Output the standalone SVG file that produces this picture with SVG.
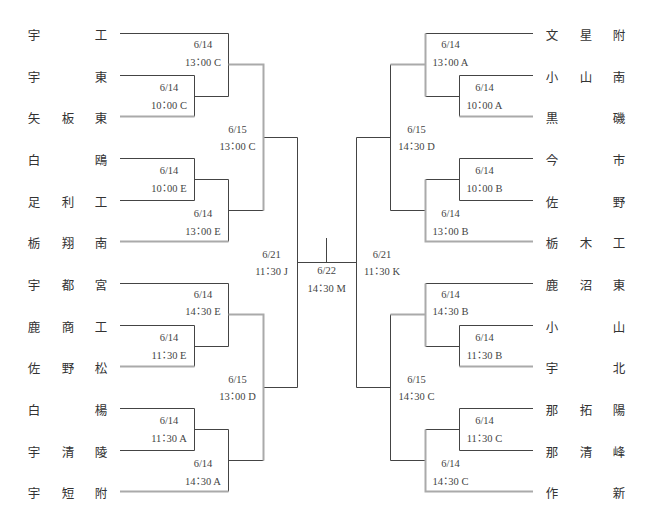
<svg xmlns="http://www.w3.org/2000/svg" width="654" height="526" viewBox="0 0 654 526">
<style>
.bg{fill:#ffffff}
.ln{fill:none;stroke:#444;stroke-width:1}
.gl{fill:none;stroke:#aaa;stroke-width:2}
.tm{font-family:"Noto Sans CJK JP","Noto Sans CJK SC",sans-serif;font-size:12.5px;fill:#333;text-anchor:middle}
.lb{font-family:"Liberation Serif","Noto Sans CJK JP",serif;font-size:10.5px;fill:#444;text-anchor:middle;font-feature-settings:"palt"}
</style>
<rect class="bg" x="0" y="0" width="654" height="526"/>
<g id="connectors">
<path class="ln" d="M120 33.5H228.5V96.5H194.5M120 75.5H194.5V116.5M120 158.5H194.5V200.5H120M194.5 179.5H228.5V241.5M228.5 210.5H263.5M263.5 137.5H297.5"/>
<path class="gl" d="M120 116.5H194.5M120 241.5H228.5M228.5 64.5H263.5V210.5"/>
<path class="ln" d="M120 283.5H228.5V346.5H194.5M120 325.5H194.5V366.5M120 408.5H194.5V450.5H120M194.5 429.5H228.5V491.5M228.5 460.5H263.5M263.5 387.5H297.5"/>
<path class="gl" d="M120 366.5H194.5M120 491.5H228.5M228.5 314.5H263.5V460.5"/>
<path class="ln" d="M297.5 137.5V387.5M297.5 262.5H356.5M326.5 238V262.5M356.5 137.5V387.5"/>
<path class="ln" d="M533 33.5H425.5M533 75.5H459.5V116.5M459.5 96.5H425.5M533 158.5H459.5V200.5H533M459.5 179.5H425.5M425.5 210.5H390.5V64.5M390.5 137.5H356.5"/>
<path class="gl" d="M533 116.5H459.5M533 241.5H425.5V179.5M425.5 96.5V33.5M425.5 64.5H390.5"/>
<path class="ln" d="M533 283.5H425.5M533 325.5H459.5V366.5M459.5 346.5H425.5M533 408.5H459.5V450.5H533M459.5 429.5H425.5M425.5 460.5H390.5V314.5M390.5 387.5H356.5"/>
<path class="gl" d="M533 366.5H459.5M533 491.5H425.5V429.5M425.5 346.5V283.5M425.5 314.5H390.5"/>
</g>
<g id="team-l1"><text class="tm" x="34 101" y="40">宇工</text></g>
<g id="team-l2"><text class="tm" x="34 101" y="82">宇東</text></g>
<g id="team-l3"><text class="tm" x="34 68 101" y="123">矢板東</text></g>
<g id="team-l4"><text class="tm" x="34 101" y="165">白鴎</text></g>
<g id="team-l5"><text class="tm" x="34 68 101" y="207">足利工</text></g>
<g id="team-l6"><text class="tm" x="34 68 101" y="248">栃翔南</text></g>
<g id="team-l7"><text class="tm" x="34 68 101" y="290">宇都宮</text></g>
<g id="team-l8"><text class="tm" x="34 68 101" y="332">鹿商工</text></g>
<g id="team-l9"><text class="tm" x="34 68 101" y="373">佐野松</text></g>
<g id="team-l10"><text class="tm" x="34 101" y="415">白楊</text></g>
<g id="team-l11"><text class="tm" x="34 68 101" y="457">宇清陵</text></g>
<g id="team-l12"><text class="tm" x="34 68 101" y="498">宇短附</text></g>
<g id="team-r1"><text class="tm" x="552 586 619" y="40">文星附</text></g>
<g id="team-r2"><text class="tm" x="552 586 619" y="82">小山南</text></g>
<g id="team-r3"><text class="tm" x="552 619" y="123">黒磯</text></g>
<g id="team-r4"><text class="tm" x="552 619" y="165">今市</text></g>
<g id="team-r5"><text class="tm" x="552 619" y="207">佐野</text></g>
<g id="team-r6"><text class="tm" x="552 586 619" y="248">栃木工</text></g>
<g id="team-r7"><text class="tm" x="552 586 619" y="290">鹿沼東</text></g>
<g id="team-r8"><text class="tm" x="552 619" y="332">小山</text></g>
<g id="team-r9"><text class="tm" x="552 619" y="373">宇北</text></g>
<g id="team-r10"><text class="tm" x="552 586 619" y="415">那拓陽</text></g>
<g id="team-r11"><text class="tm" x="552 586 619" y="457">那清峰</text></g>
<g id="team-r12"><text class="tm" x="552 619" y="498">作新</text></g>
<g id="m-l-r2a"><text class="lb" x="203" y="48">6/14</text><text class="lb" x="203" y="65.5">13：00 C</text></g>
<g id="m-l-r1a"><text class="lb" x="169" y="91">6/14</text><text class="lb" x="169" y="109">10：00 C</text></g>
<g id="m-l-r1b"><text class="lb" x="169" y="174">6/14</text><text class="lb" x="169" y="192">10：00 E</text></g>
<g id="m-l-r2b"><text class="lb" x="203" y="217">6/14</text><text class="lb" x="203" y="234.5">13：00 E</text></g>
<g id="m-l-r3a"><text class="lb" x="237.5" y="133">6/15</text><text class="lb" x="237.5" y="150">13：00 C</text></g>
<g id="m-l-r4"><text class="lb" x="271.5" y="258">6/21</text><text class="lb" x="271.5" y="275">11：30 J</text></g>
<g id="m-final"><text class="lb" x="326.7" y="274">6/22</text><text class="lb" x="326.7" y="291.5">14：30 M</text></g>
<g id="m-l-r2c"><text class="lb" x="203" y="298">6/14</text><text class="lb" x="203" y="315">14：30 E</text></g>
<g id="m-l-r1c"><text class="lb" x="169" y="341">6/14</text><text class="lb" x="169" y="359">11：30 E</text></g>
<g id="m-l-r3b"><text class="lb" x="237.5" y="383">6/15</text><text class="lb" x="237.5" y="400">13：00 D</text></g>
<g id="m-l-r1d"><text class="lb" x="169" y="424">6/14</text><text class="lb" x="169" y="442">11：30 A</text></g>
<g id="m-l-r2d"><text class="lb" x="203" y="466.5">6/14</text><text class="lb" x="203" y="484.5">14：30 A</text></g>
<g id="m-r-r2a"><text class="lb" x="450.5" y="48">6/14</text><text class="lb" x="450.5" y="65.5">13：00 A</text></g>
<g id="m-r-r1a"><text class="lb" x="484.5" y="91">6/14</text><text class="lb" x="484.5" y="109">10：00 A</text></g>
<g id="m-r-r1b"><text class="lb" x="484.5" y="174">6/14</text><text class="lb" x="484.5" y="192">10：00 B</text></g>
<g id="m-r-r2b"><text class="lb" x="450.5" y="217">6/14</text><text class="lb" x="450.5" y="234.5">13：00 B</text></g>
<g id="m-r-r3a"><text class="lb" x="416.5" y="133">6/15</text><text class="lb" x="416.5" y="150">14：30 D</text></g>
<g id="m-r-r4"><text class="lb" x="382" y="258">6/21</text><text class="lb" x="382" y="275">11：30 K</text></g>
<g id="m-r-r2c"><text class="lb" x="450.5" y="298">6/14</text><text class="lb" x="450.5" y="315">14：30 B</text></g>
<g id="m-r-r1c"><text class="lb" x="484.5" y="341">6/14</text><text class="lb" x="484.5" y="359">11：30 B</text></g>
<g id="m-r-r3b"><text class="lb" x="416.5" y="383">6/15</text><text class="lb" x="416.5" y="400">14：30 C</text></g>
<g id="m-r-r1d"><text class="lb" x="484.5" y="424">6/14</text><text class="lb" x="484.5" y="442">11：30 C</text></g>
<g id="m-r-r2d"><text class="lb" x="450.5" y="466.5">6/14</text><text class="lb" x="450.5" y="484.5">14：30 C</text></g>
</svg>
